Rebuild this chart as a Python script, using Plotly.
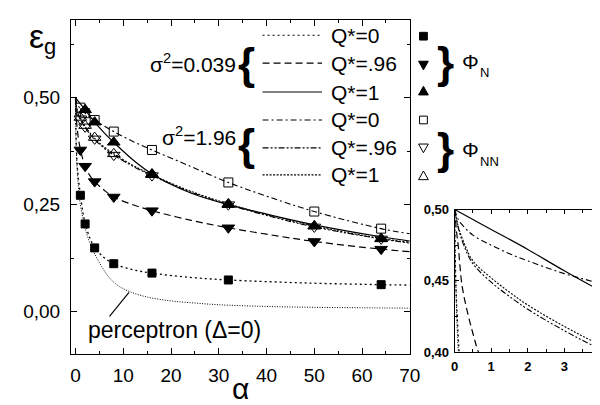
import plotly.graph_objects as go

W, H = 600, 405

# ---------------- data ----------------
# perceptron (Delta=0), fine dotted
alpha_perc = [0, 0.03, 0.08, 0.15, 0.3, 0.6, 1, 1.5, 2, 3, 4, 5.5, 7, 9, 11.5, 15, 20, 25, 30, 40, 50, 60, 70]
eps_perc = [0.5, 0.45, 0.41, 0.38, 0.34, 0.29, 0.25, 0.22, 0.195, 0.16, 0.135, 0.105, 0.08, 0.06, 0.046,
            0.034, 0.025, 0.02, 0.016, 0.012, 0.01, 0.009, 0.008]

# sigma^2=0.039, Q*=0 (dotted)
alpha_a0 = [0, 0.03, 0.08, 0.15, 0.3, 0.6, 1, 1.5, 2, 3, 4, 6, 8, 12, 16, 24, 32, 48, 64, 70]
eps_a0 = [0.5, 0.45, 0.42, 0.39, 0.35, 0.31, 0.275, 0.235, 0.207, 0.172, 0.15, 0.126, 0.112, 0.098,
          0.09, 0.08, 0.074, 0.067, 0.063, 0.062]

# sigma^2=0.039, Q*=.96 (dashed)
alpha_a96 = [0, 0.05, 0.1, 0.2, 0.35, 0.5, 0.65, 1, 1.5, 2, 3, 4, 6, 8, 12, 16, 24, 32, 40, 50, 64, 70]
eps_a96 = [0.5, 0.485, 0.474, 0.447, 0.428, 0.413, 0.40, 0.38, 0.357, 0.34, 0.318, 0.304, 0.284, 0.268,
           0.25, 0.236, 0.214, 0.196, 0.181, 0.164, 0.146, 0.14]

# sigma^2=0.039, Q*=1 (solid)
alpha_a1 = [0, 0.5, 1, 2, 3, 4, 6, 8, 12, 16, 24, 32, 40, 50, 64, 70]
eps_a1 = [0.5, 0.493, 0.486, 0.472, 0.457, 0.443, 0.418, 0.396, 0.355, 0.322, 0.278, 0.25, 0.228,
          0.203, 0.175, 0.165]

# sigma^2=1.96, Q*=0 (dash-dot)
alpha_b0 = [0, 0.1, 0.25, 0.5, 1, 1.5, 2, 3, 4, 6, 8, 12, 16, 24, 32, 40, 50, 64, 70]
eps_b0 = [0.5, 0.493, 0.488, 0.482, 0.475, 0.469, 0.464, 0.455, 0.448, 0.434, 0.421, 0.398, 0.378,
          0.34, 0.302, 0.27, 0.234, 0.194, 0.182]

# sigma^2=1.96, Q*=.96 (dash-dot-dot)
alpha_b96 = [0, 0.1, 0.25, 0.5, 1, 1.5, 2, 3, 4, 6, 8, 12, 16, 24, 32, 40, 50, 64, 70]
eps_b96 = [0.5, 0.487, 0.475, 0.462, 0.449, 0.439, 0.43, 0.415, 0.402, 0.382, 0.366, 0.34, 0.318,
           0.28, 0.25, 0.225, 0.198, 0.17, 0.16]

# sigma^2=1.96, Q*=1 (short dotted)
alpha_b1 = [0, 0.1, 0.25, 0.5, 1, 1.5, 2, 3, 4, 6, 8, 12, 16, 24, 32, 40, 50, 64, 70]
eps_b1 = [0.5, 0.488, 0.477, 0.464, 0.452, 0.442, 0.433, 0.418, 0.405, 0.385, 0.369, 0.342, 0.320,
          0.282, 0.252, 0.227, 0.2, 0.171, 0.162]

# simulation points
alpha_sq = [1, 2, 4, 8, 16, 32, 64]
eps_sq = [0.272, 0.205, 0.149, 0.112, 0.090, 0.074, 0.063]
alpha_tdn = [1, 2, 4, 8, 16, 32, 50, 64]
eps_tdn = [0.378, 0.34, 0.304, 0.268, 0.236, 0.196, 0.164, 0.146]
alpha_tup = [2, 4, 8, 16, 32, 50, 64]
eps_tup = [0.472, 0.443, 0.396, 0.322, 0.25, 0.2, 0.17]
alpha_osq = [1, 2, 4, 8, 16, 32, 50, 64]
eps_osq = [0.477, 0.464, 0.448, 0.421, 0.378, 0.302, 0.234, 0.194]
alpha_otdn = [1, 2, 4, 8, 16, 32, 50, 64]
eps_otdn = [0.451, 0.432, 0.404, 0.366, 0.318, 0.25, 0.198, 0.17]
alpha_otup = [1, 2, 4, 8, 16, 32, 50, 64]
eps_otup = [0.454, 0.435, 0.407, 0.369, 0.32, 0.252, 0.2, 0.171]

x_ticks = [0, 10, 20, 30, 40, 50, 60, 70]
y_tick_vals = [0.0, 0.25, 0.50]
y_tick_text = ["0,00", "0,25", "0,50"]
inset_x_ticks = [0, 1, 2, 3]
inset_y_vals = [0.40, 0.45, 0.50]
inset_y_text = ["0,40", "0,45", "0,50"]

legend_rows = ["Q*=0", "Q*=.96", "Q*=1", "Q*=0", "Q*=.96", "Q*=1"]

# ---------------- styles ----------------
FONT = "Liberation Sans, Arial, sans-serif"
D_PERC = "1px,1.5px"
D_A0 = "2px,3px"
D_A96 = "7px,4px"
D_A1 = "solid"
D_B0 = "6px,3px,2px,3px"
D_B96 = "6px,2px,2px,2px,2px,2px"
D_B1 = "2px,1.5px"

curves = [
    (alpha_perc, eps_perc, D_PERC, 1.0),
    (alpha_a0, eps_a0, D_A0, 1.3),
    (alpha_a96, eps_a96, D_A96, 1.2),
    (alpha_a1, eps_a1, D_A1, 1.2),
    (alpha_b0, eps_b0, D_B0, 1.1),
    (alpha_b96, eps_b96, D_B96, 1.1),
    (alpha_b1, eps_b1, D_B1, 1.1),
]

fig = go.Figure()
for a, e, d, w in curves:
    fig.add_trace(go.Scatter(x=a, y=e, mode="lines", line=dict(color="black", width=w, dash=d, shape="spline", smoothing=1.0),
                             xaxis="x", yaxis="y", hoverinfo="skip"))
for a, e, d, w in curves:
    fig.add_trace(go.Scatter(x=a, y=e, mode="lines", line=dict(color="black", width=w, dash=d, shape="spline", smoothing=1.0),
                             xaxis="x2", yaxis="y2", hoverinfo="skip"))

markers = [
    (alpha_sq, eps_sq, "square", 8),
    (alpha_tdn, eps_tdn, "triangle-down", 11),
    (alpha_tup, eps_tup, "triangle-up", 11),
    (alpha_osq, eps_osq, "square-open", 9),
    (alpha_otdn, eps_otdn, "triangle-down-open", 11),
    (alpha_otup, eps_otup, "triangle-up-open", 11),
]
for a, e, s, sz in markers:
    fig.add_trace(go.Scatter(x=a, y=e, mode="markers",
                             marker=dict(symbol=s, size=sz, color="black",
                                         line=dict(color="black", width=1)),
                             xaxis="x", yaxis="y", hoverinfo="skip"))


def px(x):
    return x / W


def py(y):
    return 1 - y / H


axis_common = dict(showline=True, linecolor="black", linewidth=1, showgrid=False, zeroline=False,
                   ticks="inside", tickcolor="black", tickfont=dict(family=FONT, size=19, color="black"))
inset_font = dict(family=FONT, size=13, color="black", weight="bold")

fig.update_layout(
    width=W, height=H, margin=dict(l=0, r=0, t=0, b=0), autosize=False,
    paper_bgcolor="white", plot_bgcolor="white", showlegend=False,
    xaxis=dict(**axis_common, domain=[px(60.5), px(408)], range=[-0.96, 70.0], mirror="ticks",
               tickvals=x_ticks, ticklen=6, ticklabelstandoff=4,
               minor=dict(ticks="inside", ticklen=3, dtick=5, tick0=0, tickcolor="black")),
    yaxis=dict(**axis_common, domain=[py(352), py(5)], range=[-0.0991, 0.6824], mirror="ticks",
               tickvals=y_tick_vals, ticktext=y_tick_text, ticklen=6, ticklabelstandoff=6,
               minor=dict(ticks="inside", ticklen=3, dtick=0.125, tick0=0, tickcolor="black")),
    xaxis2=dict(**{**axis_common, "tickfont": inset_font},
                domain=[px(454), 1.0], range=[0, 146 / 37.5], anchor="y2", mirror="ticks",
                tickvals=inset_x_ticks, ticklen=4, ticklabelstandoff=2,
                minor=dict(ticks="inside", ticklen=3, dtick=0.5, tick0=0, tickcolor="black")),
    yaxis2=dict(**{**axis_common, "tickfont": inset_font},
                domain=[py(350), py(202)], range=[0.40, 0.50], anchor="x2", mirror=False,
                tickvals=inset_y_vals, ticktext=inset_y_text, ticklen=4, ticklabelstandoff=2,
                minor=dict(ticks="inside", ticklen=3, dtick=0.025, tick0=0.4, tickcolor="black")),
)

ann = []
shapes = []


def text(x, y, t, size, xanchor="center", yanchor="middle", weight="normal"):
    ann.append(dict(x=px(x), y=py(y), xref="paper", yref="paper", text=t, showarrow=False,
                    xanchor=xanchor, yanchor=yanchor,
                    font=dict(family=FONT, size=size, color="black", weight=weight)))


# axis titles
text(25, 22, "ε", 34)
text(39, 33, "g", 22)
text(234, 388, "α", 30)

# legend (line styles)
rows_y = [21, 50, 80, 109, 138, 166]
row_dash = [D_A0, D_A96, D_A1, D_B0, D_B96, D_B1]
for yy, lab, d in zip(rows_y, legend_rows, row_dash):
    shapes.append(dict(type="line", xref="paper", yref="paper", x0=px(257), x1=px(318), y0=py(yy), y1=py(yy),
                       line=dict(color="black", width=1.1, dash=d)))
    text(325, yy, lab, 21, xanchor="left")
text(232, 50, "σ<sup>2</sup>=0.039", 21, xanchor="right")
text(232, 126, "σ<sup>2</sup>=1.96", 21, xanchor="right")
text(241, 50, "{", 44, weight="bold")
text(241, 134, "{", 44, weight="bold")

# legend (markers)
mk_x = 422
for yy, kind in zip([22, 52, 79, 109, 138, 167], ["sq", "dn", "up", "osq", "odn", "oup"]):
    fill = "black" if not kind.startswith("o") else "white"
    k = kind.lstrip("o")
    if k == "sq":
        shapes.append(dict(type="rect", xref="paper", yref="paper", x0=px(mk_x - 4), x1=px(mk_x + 4),
                           y0=py(yy + 4), y1=py(yy - 4), fillcolor=fill, line=dict(color="black", width=1)))
    elif k == "dn":
        path = f"M {px(mk_x-5)} {py(yy-4)} L {px(mk_x+5)} {py(yy-4)} L {px(mk_x)} {py(yy+5)} Z"
        shapes.append(dict(type="path", xref="paper", yref="paper", path=path, fillcolor=fill,
                           line=dict(color="black", width=1)))
    else:
        path = f"M {px(mk_x-5)} {py(yy+4)} L {px(mk_x+5)} {py(yy+4)} L {px(mk_x)} {py(yy-5)} Z"
        shapes.append(dict(type="path", xref="paper", yref="paper", path=path, fillcolor=fill,
                           line=dict(color="black", width=1)))
text(445, 49, "}", 44, weight="bold")
text(445, 139, "}", 44, weight="bold")
text(470, 48, "Φ", 21)
text(485, 60, "N", 13)
text(470, 140, "Φ", 21)
text(490, 152, "NN", 13)

# perceptron label with pointer
text(167, 327, "perceptron (Δ=0)", 23)
shapes.append(dict(type="line", xref="paper", yref="paper", x0=px(100), y0=py(313), x1=px(120), y1=py(288),
                   line=dict(color="black", width=1.2)))

fig.update_layout(annotations=ann, shapes=shapes)
fig.write_html("out.html")
